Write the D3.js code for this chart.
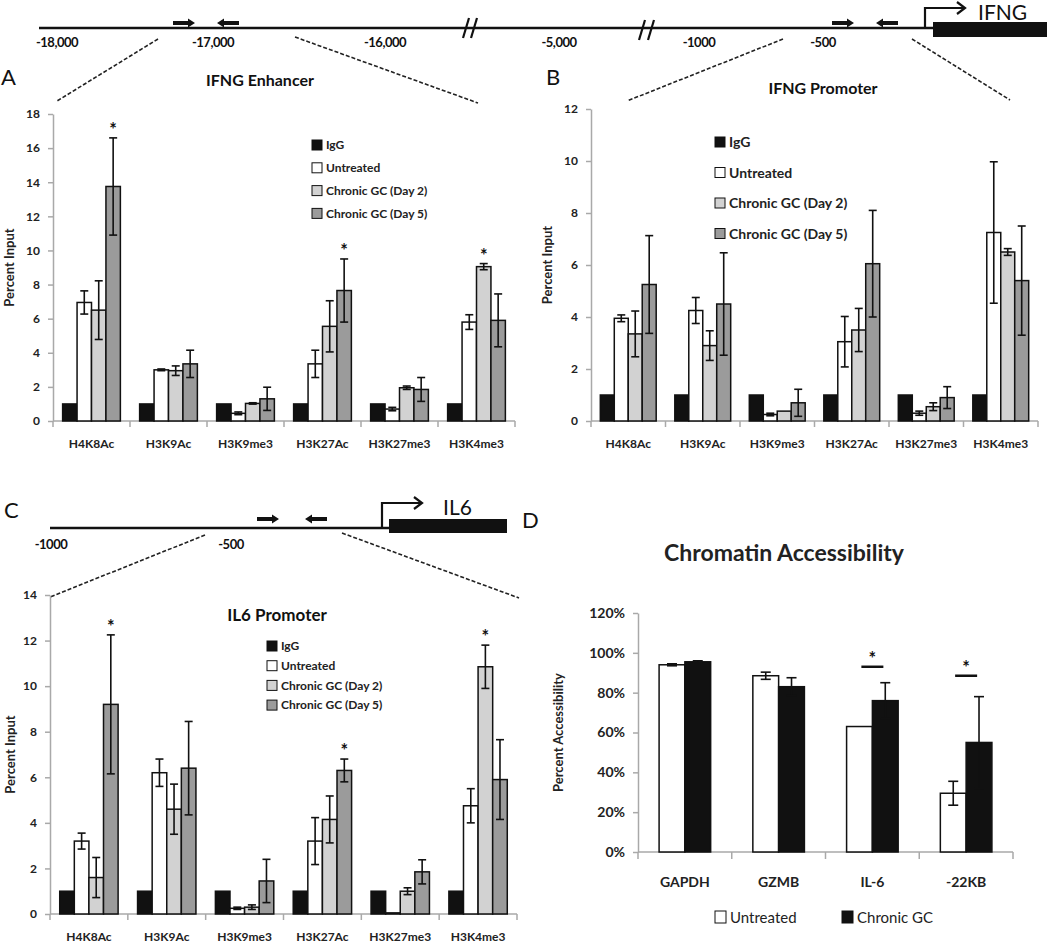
<!DOCTYPE html>
<html>
<head>
<meta charset="utf-8">
<script src="https://cdn.jsdelivr.net/npm/d3@7"></script>
<style>
body { margin: 0; background: #fff; }
svg text { font-family: Lato, "Open Sans", sans-serif; }
</style>
</head>
<body>
<div id="figure"></div>
<script>
// histone marks and treatments shared by panels A-C
var marks = ["H4K8Ac", "H3K9Ac", "H3K9me3", "H3K27Ac", "H3K27me3", "H3K4me3"];
var treatments = ["IgG", "Untreated", "Chronic GC (Day 2)", "Chronic GC (Day 5)"];

// A - IFNG enhancer
var enhancerMean = [
    [1, 6.95, 6.5, 13.75],
    [1, 3.0, 2.95, 3.35],
    [1, 0.45, 1.03, 1.3],
    [1, 3.35, 5.55, 7.65],
    [1, 0.7, 1.95, 1.85],
    [1, 5.8, 9.05, 5.9]
];
var enhancerErr = [
    [null, 0.68, 1.72, 2.85],
    [null, 0.05, 0.28, 0.8],
    [null, 0.08, 0.04, 0.68],
    [null, 0.8, 1.5, 1.85],
    [null, 0.1, 0.1, 0.7],
    [null, 0.43, 0.18, 1.55]
];
var enhancerStars = [[0, 3], [3, 3], [5, 2]];

// B - IFNG promoter
var ifngPromMean = [
    [1, 3.95, 3.35, 5.25],
    [1, 4.25, 2.9, 4.5],
    [1, 0.25, 0.38, 0.7],
    [1, 3.05, 3.5, 6.05],
    [1, 0.3, 0.55, 0.9],
    [1, 7.25, 6.5, 5.4]
];
var ifngPromErr = [
    [null, 0.13, 0.88, 1.88],
    [null, 0.5, 0.57, 1.97],
    [null, 0.05, null, 0.52],
    [null, 0.97, 0.83, 2.05],
    [null, 0.08, 0.15, 0.42],
    [null, 2.72, 0.13, 2.1]
];
var ifngPromStars = [];

// C - IL6 promoter
var il6Mean = [
    [1, 3.2, 1.6, 9.2],
    [1, 6.2, 4.6, 6.4],
    [1, 0.25, 0.3, 1.45],
    [1, 3.2, 4.15, 6.3],
    [1, 0.05, 1.0, 1.85],
    [1, 4.75, 10.85, 5.9]
];
var il6Err = [
    [null, 0.35, 0.88, 3.05],
    [null, 0.6, 1.1, 2.05],
    [null, 0.05, 0.1, 0.95],
    [null, 1.03, 1.03, 0.5],
    [null, null, 0.15, 0.53],
    [null, 0.75, 0.95, 1.75]
];
var il6Stars = [[0, 3], [3, 3], [5, 2]];

// D - chromatin accessibility
var genes = ["GAPDH", "GZMB", "IL-6", "-22KB"];
var accessGroups = ["Untreated", "Chronic GC"];
var untreatedAccess = [0.94, 0.885, 0.63, 0.295];
var untreatedAccessErr = [0.005, 0.018, null, 0.06];
var chronicAccess = [0.955, 0.83, 0.76, 0.55];
var chronicAccessErr = [0.005, 0.045, 0.09, 0.23];
var accessSigLevel = [null, null, 0.93, 0.885];

// gene diagram labels
var ifngTickLabels = ["-18,000", "-17,000", "-16,000", "-5,000", "-1000", "-500"];
var ifngTickPos = [-18000, -17000, -16000, -5000, -1000, -500];
var il6TickLabels = ["-1000", "-500"];
var il6TickPos = [-1000, -500];

var barFills = ["#111", "#fff", "#d2d2d2", "#9b9b9b"];
var axisGrey = "#a9a9a9";

var svg = d3.select("#figure")
    .append("svg")
    .attr("width", 1050)
    .attr("height", 945);

function primer(x, y, dir) {
    // short thick arrow, 22px long
    var p = dir > 0
        ? [[x, y - 2], [x + 15, y - 2], [x + 15, y - 4.5], [x + 22, y], [x + 15, y + 4.5], [x + 15, y + 2], [x, y + 2]]
        : [[x + 22, y - 2], [x + 7, y - 2], [x + 7, y - 4.5], [x, y], [x + 7, y + 4.5], [x + 7, y + 2], [x + 22, y + 2]];
    svg.append("polygon").attr("points", p.join(" ")).attr("fill", "#111");
}

function tss(x, yLine, yTop, xEnd) {
    svg.append("path")
        .attr("d", `M${x},${yLine} V${yTop} H${xEnd}`)
        .attr("fill", "none").attr("stroke", "#111").attr("stroke-width", 2.2);
    svg.append("path")
        .attr("d", `M${xEnd - 8},${yTop - 6} L${xEnd},${yTop} L${xEnd - 8},${yTop + 6}`)
        .attr("fill", "none").attr("stroke", "#111").attr("stroke-width", 2.2);
}

function dashed(x1, y1, x2, y2) {
    svg.append("line")
        .attr("x1", x1).attr("y1", y1).attr("x2", x2).attr("y2", y2)
        .attr("stroke", "#222").attr("stroke-width", 1.6)
        .attr("stroke-dasharray", "4,2");
}

function slash(x, y) {
    svg.append("line")
        .attr("x1", x).attr("y1", y + 10).attr("x2", x + 6).attr("y2", y - 10)
        .attr("stroke", "#111").attr("stroke-width", 2.2);
}

function panelLetter(t, x, y) {
    svg.append("text").attr("x", x).attr("y", y)
        .attr("font-size", 22).attr("fill", "#111").text(t);
}

// ---- IFNG locus diagram ----
var ifngX = d3.scaleLinear()
    .domain([-18000, -17000, -16000, -5000, -1000, -500, 0])
    .range([57, 213, 385, 559, 699, 823, 925]);

svg.append("line").attr("x1", 39).attr("x2", 933).attr("y1", 28).attr("y2", 28)
    .attr("stroke", "#111").attr("stroke-width", 2.5);
slash(463, 28); slash(471, 28);
slash(639, 30); slash(648, 30);
svg.append("rect").attr("x", 933).attr("y", 22).attr("width", 114).attr("height", 15).attr("fill", "#111");
tss(ifngX(0), 28, 8, 965);
svg.append("text").attr("x", 978).attr("y", 20).attr("font-size", 21).attr("fill", "#111").text("IFNG");
primer(173, 23, 1); primer(217, 23, -1);
primer(832, 23, 1); primer(876, 23, -1);
svg.selectAll(".ifngTick").data(ifngTickLabels).enter().append("text")
    .attr("x", (d, i) => ifngX(ifngTickPos[i]))
    .attr("y", 47)
    .attr("text-anchor", "middle")
    .attr("font-size", 13).attr("font-weight", "bold").attr("fill", "#111")
    .attr("letter-spacing", -0.5)
    .text(d => d);
dashed(158, 39, 57, 101);
dashed(295, 37, 478, 103);
dashed(783, 39, 627, 101);
dashed(912, 39, 1010, 100);

// ---- IL6 locus diagram ----
var il6X = d3.scaleLinear().domain([-1000, -500]).range([51, 231]);
svg.append("line").attr("x1", 50).attr("x2", 389).attr("y1", 528).attr("y2", 528)
    .attr("stroke", "#111").attr("stroke-width", 2.5);
svg.append("rect").attr("x", 389).attr("y", 519).attr("width", 118).attr("height", 14).attr("fill", "#111");
tss(382, 528, 503, 422);
svg.append("text").attr("x", 443).attr("y", 515).attr("font-size", 21).attr("fill", "#111").text("IL6");
primer(257, 519, 1); primer(305, 519, -1);
svg.selectAll(".il6Tick").data(il6TickLabels).enter().append("text")
    .attr("x", (d, i) => il6X(il6TickPos[i]))
    .attr("y", 549)
    .attr("text-anchor", "middle")
    .attr("font-size", 13).attr("font-weight", "bold").attr("fill", "#111")
    .attr("letter-spacing", -0.5)
    .text(d => d);
dashed(205, 535, 50, 597);
dashed(342, 533, 519, 598);

function styleYAxis(ax, fs) {
    ax.select(".domain").attr("stroke", axisGrey).attr("stroke-width", 1.5);
    ax.selectAll(".tick line").attr("stroke", axisGrey).attr("stroke-width", 1.5);
    ax.selectAll(".tick text").attr("font-size", fs).attr("font-weight", "bold").attr("fill", "#222");
}

function errorBar(g, cx, top, bottom, cap) {
    g.append("line").attr("x1", cx).attr("x2", cx).attr("y1", top).attr("y2", bottom)
        .attr("stroke", "#111").attr("stroke-width", 1.6);
    [top, bottom].forEach(function(yy) {
        g.append("line").attr("x1", cx - cap).attr("x2", cx + cap).attr("y1", yy).attr("y2", yy)
            .attr("stroke", "#111").attr("stroke-width", 1.6);
    });
}

function histonePanel(o) {
    var x = d3.scaleBand().domain(marks).range([o.x0, o.x1]).paddingInner(0.25).paddingOuter(0.125);
    var xs = d3.scaleBand().domain(treatments).range([0, x.bandwidth()]);
    var y = d3.scaleLinear().domain([0, o.max]).range([o.y0, o.y1]);
    var g = svg.append("g");

    var yAxis = g.append("g")
        .attr("transform", `translate(${o.x0},0)`)
        .call(d3.axisLeft(y).ticks(o.max / 2).tickSizeInner(5).tickSizeOuter(0).tickPadding(8));
    styleYAxis(yAxis, 12);

    // category axis with ticks between the groups
    var edges = marks.map(m => x(m) - x.step() * x.paddingInner() / 2).concat([o.x1]);
    g.append("line").attr("x1", o.x0).attr("x2", o.x1).attr("y1", o.y0).attr("y2", o.y0)
        .attr("stroke", axisGrey).attr("stroke-width", 1.5);
    g.selectAll(".xt").data(edges).enter().append("line")
        .attr("x1", d => d).attr("x2", d => d)
        .attr("y1", o.y0).attr("y2", o.y0 + 6)
        .attr("stroke", axisGrey).attr("stroke-width", 1.5);
    g.selectAll(".xl").data(marks).enter().append("text")
        .attr("x", m => x(m) + x.bandwidth() / 2)
        .attr("y", o.y0 + 27)
        .attr("text-anchor", "middle")
        .attr("font-size", 12).attr("font-weight", "bold").attr("fill", "#222")
        .text(m => m);

    var cells = [];
    marks.forEach(function(m, i) {
        treatments.forEach(function(t, j) {
            cells.push({ m: m, t: t, j: j, v: o.mean[i][j], e: o.err[i][j] });
        });
    });

    g.selectAll(".bar").data(cells).enter().append("rect")
        .attr("x", d => x(d.m) + xs(d.t))
        .attr("y", d => y(d.v))
        .attr("width", xs.bandwidth())
        .attr("height", d => o.y0 - y(d.v))
        .attr("fill", d => barFills[d.j])
        .attr("stroke", "#111")
        .attr("stroke-width", 1.5);

    cells.filter(d => d.e != null).forEach(function(d) {
        var cx = x(d.m) + xs(d.t) + xs.bandwidth() / 2;
        errorBar(g, cx, y(d.v + d.e), y(d.v - d.e), 4);
    });

    o.stars.forEach(function(s) {
        var m = marks[s[0]], t = treatments[s[1]];
        var v = o.mean[s[0]][s[1]] + (o.err[s[0]][s[1]] || 0);
        g.append("text")
            .attr("x", x(m) + xs(t) + xs.bandwidth() / 2)
            .attr("y", y(v) - 2)
            .attr("text-anchor", "middle")
            .attr("font-size", 18).attr("font-weight", "bold").attr("fill", "#111")
            .text("*");
    });

    g.append("text")
        .attr("x", o.titleX).attr("y", o.titleY)
        .attr("text-anchor", "middle")
        .attr("font-size", o.titleSize).attr("font-weight", "bold").attr("fill", "#111")
        .text(o.title);

    g.append("text")
        .attr("transform", `translate(${o.yTitleX},${(o.y0 + o.y1) / 2}) rotate(-90)`)
        .attr("text-anchor", "middle")
        .attr("font-size", 13).attr("font-weight", "bold").attr("fill", "#222")
        .text("Percent Input");

    var leg = g.selectAll(".leg").data(treatments).enter().append("g")
        .attr("transform", (d, j) => `translate(${o.legX},${o.legY + j * o.legGap})`);
    leg.append("rect").attr("x", 0).attr("y", -5).attr("width", 10).attr("height", 10)
        .attr("fill", (d, j) => barFills[j]).attr("stroke", "#111").attr("stroke-width", 1);
    leg.append("text").attr("x", 14).attr("y", o.legFont * 0.36)
        .attr("font-size", o.legFont).attr("font-weight", "bold").attr("fill", "#222")
        .text(d => d);
}

histonePanel({
    x0: 53, x1: 515, y0: 421, y1: 114, max: 18,
    mean: enhancerMean, err: enhancerErr, stars: enhancerStars,
    title: "IFNG Enhancer", titleX: 260, titleY: 86, titleSize: 16,
    yTitleX: 14, legX: 312, legY: 145, legGap: 22.8, legFont: 12
});
histonePanel({
    x0: 591, x1: 1038, y0: 421, y1: 109, max: 12,
    mean: ifngPromMean, err: ifngPromErr, stars: ifngPromStars,
    title: "IFNG Promoter", titleX: 823, titleY: 94, titleSize: 16,
    yTitleX: 552, legX: 715, legY: 142, legGap: 30.5, legFont: 14
});
histonePanel({
    x0: 50, x1: 517, y0: 914, y1: 595, max: 14,
    mean: il6Mean, err: il6Err, stars: il6Stars,
    title: "IL6 Promoter", titleX: 277, titleY: 621, titleSize: 17,
    yTitleX: 15, legX: 267, legY: 646, legGap: 19.7, legFont: 12
});

// ---- D: chromatin accessibility ----
(function() {
    var x0 = 638, x1 = 1013, y0 = 852, y1 = 613;
    var x = d3.scaleBand().domain(genes).range([x0, x1]).paddingInner(0.45).paddingOuter(0.225);
    var xs = d3.scaleBand().domain(accessGroups).range([0, x.bandwidth()]);
    var y = d3.scaleLinear().domain([0, 1.2]).range([y0, y1]);
    var g = svg.append("g");
    var fills = ["#fff", "#111"];

    var yAxis = g.append("g")
        .attr("transform", `translate(${x0},0)`)
        .call(d3.axisLeft(y).ticks(6).tickFormat(d3.format(".0%")).tickSizeInner(5).tickSizeOuter(0).tickPadding(8));
    styleYAxis(yAxis, 14);

    var edges = genes.map(m => x(m) - x.step() * x.paddingInner() / 2).concat([x1]);
    g.append("line").attr("x1", x0).attr("x2", x1).attr("y1", y0).attr("y2", y0)
        .attr("stroke", axisGrey).attr("stroke-width", 1.5);
    g.selectAll(".xt").data(edges).enter().append("line")
        .attr("x1", d => d).attr("x2", d => d)
        .attr("y1", y0).attr("y2", y0 + 7)
        .attr("stroke", axisGrey).attr("stroke-width", 1.5);
    g.selectAll(".xl").data(genes).enter().append("text")
        .attr("x", m => x(m) + x.bandwidth() / 2)
        .attr("y", y0 + 35)
        .attr("text-anchor", "middle")
        .attr("font-size", 14).attr("font-weight", "bold").attr("fill", "#222")
        .text(m => m);

    var cells = [];
    genes.forEach(function(m, i) {
        cells.push({ m: m, t: accessGroups[0], j: 0, v: untreatedAccess[i], e: untreatedAccessErr[i] });
        cells.push({ m: m, t: accessGroups[1], j: 1, v: chronicAccess[i], e: chronicAccessErr[i] });
    });

    g.selectAll(".bar").data(cells).enter().append("rect")
        .attr("x", d => x(d.m) + xs(d.t))
        .attr("y", d => y(d.v))
        .attr("width", xs.bandwidth())
        .attr("height", d => y0 - y(d.v))
        .attr("fill", d => fills[d.j])
        .attr("stroke", "#111")
        .attr("stroke-width", 1.5);

    cells.filter(d => d.e != null).forEach(function(d) {
        var cx = x(d.m) + xs(d.t) + xs.bandwidth() / 2;
        errorBar(g, cx, y(d.v + d.e), y(d.v - d.e), 5);
    });

    genes.forEach(function(m, i) {
        if (accessSigLevel[i] == null) return;
        var cx = x(m) + x.bandwidth() / 2;
        g.append("line").attr("x1", cx - 11).attr("x2", cx + 11)
            .attr("y1", y(accessSigLevel[i])).attr("y2", y(accessSigLevel[i]))
            .attr("stroke", "#111").attr("stroke-width", 2.5);
        g.append("text").attr("x", cx).attr("y", y(accessSigLevel[i]) - 2)
            .attr("text-anchor", "middle")
            .attr("font-size", 18).attr("font-weight", "bold").attr("fill", "#111")
            .text("*");
    });

    g.append("text").attr("x", 784).attr("y", 561)
        .attr("text-anchor", "middle")
        .attr("font-size", 23).attr("font-weight", "bold").attr("fill", "#222")
        .text("Chromatin Accessibility");

    g.append("text")
        .attr("transform", `translate(563,${(y0 + y1) / 2}) rotate(-90)`)
        .attr("text-anchor", "middle")
        .attr("font-size", 13).attr("font-weight", "bold").attr("fill", "#222")
        .text("Percent Accessibility");

    var legX = [715, 842];
    var leg = g.selectAll(".leg").data(accessGroups).enter().append("g")
        .attr("transform", (d, j) => `translate(${legX[j]},917)`);
    leg.append("rect").attr("x", 0).attr("y", -6).attr("width", 11).attr("height", 12)
        .attr("fill", (d, j) => fills[j]).attr("stroke", "#111").attr("stroke-width", 1);
    leg.append("text").attr("x", 15).attr("y", 5.5)
        .attr("font-size", 15).attr("fill", "#222")
        .text(d => d);
})();

panelLetter("A", 1, 85);
panelLetter("B", 546, 85);
panelLetter("C", 4, 518);
panelLetter("D", 522, 528);
</script>
</body>
</html>
